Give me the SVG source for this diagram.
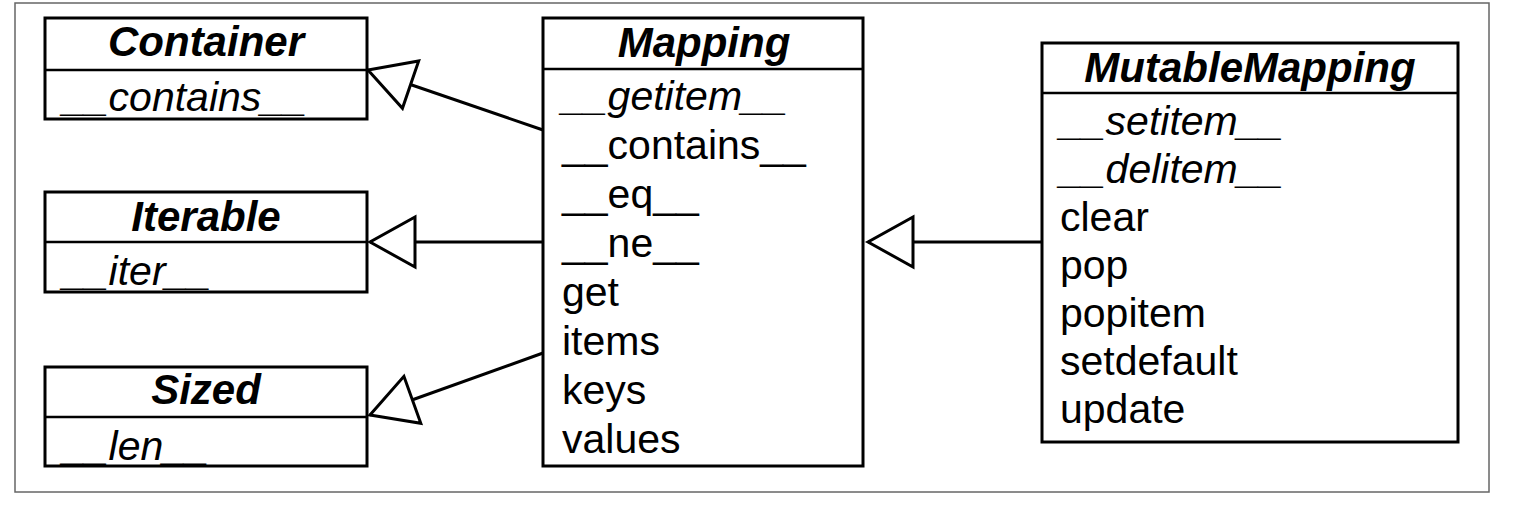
<svg xmlns="http://www.w3.org/2000/svg" width="1514" height="506" viewBox="0 0 1514 506">
<defs>
<style>
.frame{fill:#fff;stroke:#666;stroke-width:1.5}
.box{fill:#fff;stroke:#000;stroke-width:3}
.div{stroke:#000;stroke-width:2.5}
.edge{stroke:#000;stroke-width:3;fill:none}
.t{font-family:"Liberation Sans",Arial,Helvetica,sans-serif;font-size:42px;font-weight:bold;font-style:italic;text-anchor:middle;fill:#000}
.m{font-family:"Liberation Sans",Arial,Helvetica,sans-serif;font-size:41px;fill:#000}
.a{font-style:italic}
</style>
<marker id="gen" markerUnits="userSpaceOnUse" markerWidth="52" markerHeight="60" refX="47" refY="28" orient="auto" overflow="visible">
<path d="M47,28 L2,3 L2,53 Z" fill="#fff" stroke="#000" stroke-width="3" stroke-linejoin="miter"/>
</marker>
</defs>
<rect x="0" y="0" width="1514" height="506" fill="#fff"/>
<rect class="frame" x="15" y="3" width="1474" height="489"/>

<g id="connectors">
<line class="edge" x1="543" y1="130" x2="368" y2="70" marker-end="url(#gen)"/>
<line class="edge" x1="543" y1="242" x2="370" y2="242" marker-end="url(#gen)"/>
<line class="edge" x1="543" y1="353" x2="370" y2="415" marker-end="url(#gen)"/>
<line class="edge" x1="1042" y1="242" x2="868" y2="242" marker-end="url(#gen)"/>
</g>

<g id="Container">
<rect class="box" x="45" y="18" width="322" height="101"/>
<line class="div" x1="45" y1="70" x2="367" y2="70"/>
<text class="t" x="206" y="56">Container</text>
<text class="m a" x="63" y="111">__contains__</text>
</g>

<g id="Iterable">
<rect class="box" x="45" y="192" width="322" height="100"/>
<line class="div" x1="45" y1="242" x2="367" y2="242"/>
<text class="t" x="206" y="231">Iterable</text>
<text class="m a" x="63" y="285">__iter__</text>
</g>

<g id="Sized">
<rect class="box" x="45" y="367" width="322" height="99"/>
<line class="div" x1="45" y1="417" x2="367" y2="417"/>
<text class="t" x="206" y="404">Sized</text>
<text class="m a" x="63" y="460">__len__</text>
</g>

<g id="Mapping">
<rect class="box" x="543" y="18" width="320" height="448"/>
<line class="div" x1="543" y1="69" x2="863" y2="69"/>
<text class="t" x="704" y="57">Mapping</text>
<text class="m a" x="562" y="110">__getitem__</text>
<text class="m" x="562" y="159">__contains__</text>
<text class="m" x="562" y="208">__eq__</text>
<text class="m" x="562" y="257">__ne__</text>
<text class="m" x="562" y="306">get</text>
<text class="m" x="562" y="355">items</text>
<text class="m" x="562" y="404">keys</text>
<text class="m" x="562" y="453">values</text>
</g>

<g id="MutableMapping">
<rect class="box" x="1042" y="43" width="416" height="399"/>
<line class="div" x1="1042" y1="93" x2="1458" y2="93"/>
<text class="t" x="1250" y="82">MutableMapping</text>
<text class="m a" x="1060" y="135">__setitem__</text>
<text class="m a" x="1060" y="183">__delitem__</text>
<text class="m" x="1060" y="231">clear</text>
<text class="m" x="1060" y="279">pop</text>
<text class="m" x="1060" y="327">popitem</text>
<text class="m" x="1060" y="375">setdefault</text>
<text class="m" x="1060" y="423">update</text>
</g>
</svg>
